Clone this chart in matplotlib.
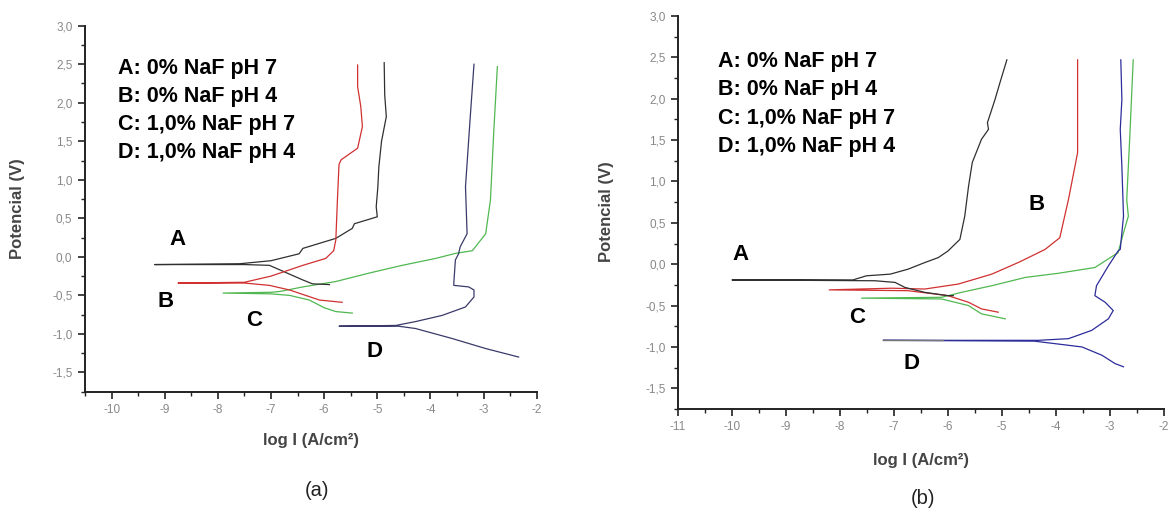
import numpy as np
import matplotlib
matplotlib.use("Agg")
import matplotlib.pyplot as plt
from matplotlib.ticker import MultipleLocator, FuncFormatter

# ---- panel (a): log I (A/cm2) vs potential (V), cathodic end -> Ecorr -> anodic end
a_A_x = [-5.9, -6.22, -6.4, -7.03, -7.5, -9.19,
         -9.19, -7.6, -7.0, -6.47, -6.4, -5.78, -5.47, -5.43, -5.0, -5.02, -4.99, -4.97, -4.92, -4.83, -4.86, -4.87]
a_A_y = [-0.36, -0.35, -0.30, -0.11, -0.10, -0.10,
         -0.10, -0.09, -0.05, 0.04, 0.11, 0.24, 0.37, 0.43, 0.52, 0.65, 0.90, 1.17, 1.50, 1.82, 2.10, 2.52]
a_B_x = [-5.66, -6.09, -6.65, -7.03, -7.5, -8.75,
         -8.75, -7.5, -7.0, -6.4, -5.97, -5.82, -5.78, -5.75, -5.72, -5.68, -5.37, -5.28, -5.31, -5.37, -5.37]
a_B_y = [-0.59, -0.56, -0.43, -0.37, -0.34, -0.34,
         -0.34, -0.33, -0.25, -0.11, -0.02, 0.08, 0.22, 0.74, 1.20, 1.26, 1.41, 1.69, 1.95, 2.21, 2.49]
a_C_x = [-5.47, -5.78, -6.0, -6.28, -6.65, -7.0, -7.9,
         -7.9, -7.0, -6.84, -6.4, -5.78, -5.15, -4.53, -3.9, -3.53, -3.21, -2.96, -2.87, -2.81, -2.74]
a_C_y = [-0.73, -0.71, -0.66, -0.56, -0.50, -0.48, -0.47,
         -0.47, -0.46, -0.45, -0.39, -0.32, -0.21, -0.11, -0.02, 0.045, 0.08, 0.30, 0.74, 1.60, 2.47]
a_D_x = [-2.34, -2.96, -3.59, -4.28, -4.6, -5.72,
         -5.72, -4.65, -4.28, -3.78, -3.34, -3.18, -3.18, -3.28, -3.56, -3.56, -3.53, -3.47, -3.44, -3.31, -3.34, -3.25, -3.18]
a_D_y = [-1.30, -1.19, -1.06, -0.93, -0.90, -0.90,
         -0.90, -0.89, -0.84, -0.76, -0.65, -0.52, -0.43, -0.39, -0.37, -0.34, -0.04, 0.04, 0.13, 0.30, 0.91, 1.82, 2.50]

# ---- panel (b)
b_A_x = [-5.9, -6.0, -6.43, -6.8, -6.98, -7.35, -10.0,
         -10.0, -7.76, -7.51, -7.07, -6.74, -6.43, -6.18, -6.0, -5.78, -5.69, -5.62, -5.55, -5.38, -5.25, -5.27, -5.13, -5.04, -4.91]
b_A_y = [-0.38, -0.38, -0.34, -0.28, -0.22, -0.20, -0.19,
         -0.19, -0.19, -0.14, -0.12, -0.06, 0.02, 0.08, 0.16, 0.30, 0.58, 0.94, 1.23, 1.51, 1.63, 1.71, 1.99, 2.19, 2.47]
b_B_x = [-5.07, -5.38, -5.62, -6.0, -6.74, -8.2,
         -8.2, -7.04, -6.43, -5.81, -5.19, -4.7, -4.51, -4.2, -3.93, -3.77, -3.65, -3.6, -3.6]
b_B_y = [-0.58, -0.54, -0.46, -0.38, -0.32, -0.31,
         -0.31, -0.29, -0.30, -0.24, -0.12, 0.02, 0.08, 0.18, 0.32, 0.78, 1.18, 1.35, 2.47]
b_C_x = [-4.94, -5.38, -5.62, -6.12, -7.6,
         -7.6, -6.12, -5.75, -5.19, -4.57, -3.96, -3.28, -3.09, -2.85, -2.75, -2.66, -2.69, -2.63, -2.57]
b_C_y = [-0.66, -0.60, -0.50, -0.42, -0.41,
         -0.41, -0.40, -0.34, -0.26, -0.16, -0.11, -0.04, 0.04, 0.14, 0.38, 0.58, 0.78, 1.59, 2.47]
b_D_x = [-2.75, -2.91, -3.15, -3.52, -4.02, -4.4, -7.2,
         -7.2, -4.33, -3.77, -3.34, -3.03, -2.94, -3.09, -3.28, -3.25, -3.03, -2.85, -2.81, -2.75, -2.78, -2.81, -2.78, -2.8]
b_D_y = [-1.24, -1.20, -1.10, -1.00, -0.96, -0.93, -0.92,
         -0.92, -0.92, -0.90, -0.80, -0.66, -0.56, -0.46, -0.38, -0.26, -0.02, 0.16, 0.18, 0.58, 1.18, 1.63, 1.99, 2.47]
# grey low-current tail of D in (b)
b_D_tail_x = [-7.2, -6.1]
b_D_tail_y = [-0.92, -0.92]

legend_lines = ["A: 0% NaF pH 7", "B: 0% NaF pH 4", "C: 1,0% NaF pH 7", "D: 1,0% NaF pH 4"]

W, H = 1175, 513
fig = plt.figure(figsize=(W / 100, H / 100), dpi=100)
plt.rcParams['font.family'] = ['Liberation Sans', 'DejaVu Sans']


def px_axes(x0, y0, x1, y1):
    # pixel box (left, top, right, bottom) -> figure axes
    return fig.add_axes([x0 / W, 1 - y1 / H, (x1 - x0) / W, (y1 - y0) / H])


def style(ax, xmin):
    ax.set_xlim(xmin, -2)
    ax.set_ylim(-1.75, 3.0)
    for s in ['top', 'right']:
        ax.spines[s].set_visible(False)
    for s in ['left', 'bottom']:
        ax.spines[s].set_linewidth(1.4)
        ax.spines[s].set_color('#222222')
    ax.xaxis.set_major_locator(MultipleLocator(1))
    ax.xaxis.set_minor_locator(MultipleLocator(0.5))
    ax.yaxis.set_major_locator(MultipleLocator(0.5))
    ax.yaxis.set_minor_locator(MultipleLocator(0.25))
    ax.yaxis.set_major_formatter(FuncFormatter(lambda v, p: ('%.1f' % v).replace('.', ',').replace('-0,0', '0,0')))
    ax.xaxis.set_major_formatter(FuncFormatter(lambda v, p: '%d' % round(v)))
    ax.tick_params(which='major', direction='out', length=5, width=1.2, color='#222222',
                   labelsize=8.5, labelcolor='#888888', pad=4)
    ax.tick_params(which='minor', direction='out', length=3, width=1.0, color='#222222')


colors = {'A': '#303030', 'B': '#d03030', 'C': '#50b850', 'D': '#2c2c9a'}

# panel (a)
ax1 = px_axes(85, 25.7, 536.7, 391.7)
style(ax1, -10.5)
ax1.plot(a_C_x, a_C_y, color=colors['C'], lw=0.9)
ax1.plot(a_D_x, a_D_y, color='#3a3a6a', lw=0.9)
ax1.plot(a_A_x, a_A_y, color=colors['A'], lw=0.9)
ax1.plot(a_B_x, a_B_y, color=colors['B'], lw=0.9)
for i, t in enumerate(legend_lines):
    ax1.text(0.074, 0.884 - i * 0.0765, t, transform=ax1.transAxes, fontsize=15.5,
             fontweight='bold', va='center', ha='left')
for lab, (x, y) in zip("ABCD", [(-8.75, 0.22), (-8.99, -0.58), (-7.31, -0.82), (-5.06, -1.23)]):
    ax1.text(x, y, lab, fontsize=16, fontweight='bold', ha='center', va='center')

# panel (b)
ax2 = px_axes(678, 16, 1164, 409)
style(ax2, -11)
ax2.plot(b_C_x, b_C_y, color=colors['C'], lw=0.9)
ax2.plot(b_D_x, b_D_y, color=colors['D'], lw=0.9)
ax2.plot(b_D_tail_x, b_D_tail_y, color='#777777', lw=1.0)
ax2.plot(b_B_x, b_B_y, color=colors['B'], lw=0.9)
ax2.plot(b_A_x, b_A_y, color=colors['A'], lw=0.9)
for i, t in enumerate(legend_lines):
    ax2.text(0.083, 0.884 - i * 0.072, t, transform=ax2.transAxes, fontsize=15.5,
             fontweight='bold', va='center', ha='left')
for lab, (x, y) in zip("ABCD", [(-9.85, 0.12), (-4.36, 0.72), (-7.69, -0.64), (-6.67, -1.20)]):
    ax2.text(x, y, lab, fontsize=16, fontweight='bold', ha='center', va='center')

# axis labels and panel captions
def ftext(x, y, s, **kw):
    fig.text(x / W, 1 - y / H, s, ha='center', va='center', **kw)

ftext(18, 209, 'Potencial (V)', rotation=90, fontsize=12, fontweight='bold', color='#444444')
ftext(607, 212, 'Potencial (V)', rotation=90, fontsize=12, fontweight='bold', color='#444444')
ftext(311, 440, 'log I (A/cm²)', fontsize=12, fontweight='bold', color='#444444')
ftext(921, 460, 'log I (A/cm²)', fontsize=12, fontweight='bold', color='#444444')
ftext(317, 490, '(a)', fontsize=14.5, color='#222222')
ftext(923, 498, '(b)', fontsize=14.5, color='#222222')

fig.savefig('out.png', dpi=100)
